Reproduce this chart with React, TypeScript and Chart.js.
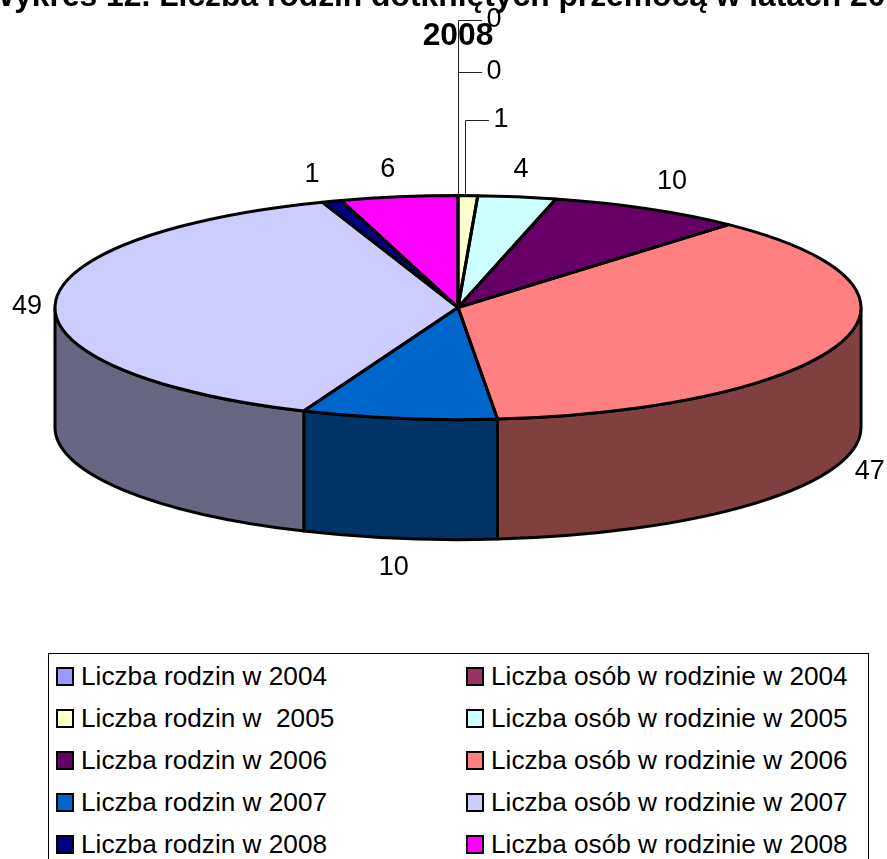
import React, { useEffect, useRef } from "react";
import { Chart, registerables } from "chart.js";

Chart.register(...registerables);

const categories = [
  "Liczba rodzin w 2004",
  "Liczba osób w rodzinie w 2004",
  "Liczba rodzin w  2005",
  "Liczba osób w rodzinie w 2005",
  "Liczba rodzin w 2006",
  "Liczba osób w rodzinie w 2006",
  "Liczba rodzin w 2007",
  "Liczba osób w rodzinie w 2007",
  "Liczba rodzin w 2008",
  "Liczba osób w rodzinie w 2008",
];
const values = [0, 0, 1, 4, 10, 47, 10, 49, 1, 6];
const titleLines = ["Wykres 12. Liczba rodzin dotkniętych przemocą w latach 2004-", "2008"];

const sliceColors = ["#9999FF", "#993366", "#FFFFCC", "#CCFFFF", "#660066", "#FF8080", "#0066CC", "#CCCCFF", "#000080", "#FF00FF"];
const labelOffsets: [number, number][] = [
  [36, -176], [36, -124], [33, -76], [4, -27], [24, -27],
  [29, 129], [-5, 149], [-28, 2], [-19.5, -27], [-11, -27],
];
const leaderLabels = [0, 1, 2];

const FONT = '"Liberation Sans", Arial, sans-serif';
const RADIUS = 403;
const TILT = 112 / 403;
const DEPTH = 120;
const LINE = 3;

function halfColor(hex: string) {
  const n = parseInt(hex.slice(1), 16);
  const c = [(n >> 16) & 255, (n >> 8) & 255, n & 255].map((v) => Math.round(v / 2));
  return `rgb(${c[0]},${c[1]},${c[2]})`;
}

const pie3d = {
  id: "pie3d",
  beforeDatasetsDraw(chart: any) {
    const ctx = chart.ctx;
    const arcs = chart.getDatasetMeta(0).data;
    const cx = arcs[0].x, cy = arcs[0].y;
    const rx = arcs[0].outerRadius, ry = rx * TILT;
    ctx.save();
    ctx.lineWidth = LINE;
    ctx.strokeStyle = "#000";
    ctx.lineJoin = "round";
    arcs.forEach((arc: any, i: number) => {
      if (!values[i]) return;
      for (const [lo, hi] of [[0, Math.PI], [2 * Math.PI, 3 * Math.PI]]) {
        const a0 = Math.max(arc.startAngle, lo);
        const a1 = Math.min(arc.endAngle, hi);
        if (a1 <= a0) continue;
        ctx.beginPath();
        ctx.ellipse(cx, cy, rx, ry, 0, a0, a1);
        ctx.ellipse(cx, cy + DEPTH, rx, ry, 0, a1, a0, true);
        ctx.closePath();
        ctx.fillStyle = halfColor(sliceColors[i]);
        ctx.fill();
        ctx.stroke();
      }
    });
    ctx.restore();
    ctx.save();
    ctx.translate(cx, cy);
    ctx.scale(1, TILT);
    ctx.translate(-cx, -cy);
  },
  afterDatasetsDraw(chart: any) {
    const ctx = chart.ctx;
    ctx.restore();
    const arcs = chart.getDatasetMeta(0).data;
    const cx = arcs[0].x, cy = arcs[0].y;
    const rx = arcs[0].outerRadius, ry = rx * TILT;
    ctx.save();
    ctx.lineWidth = LINE;
    ctx.strokeStyle = "#000";
    ctx.lineJoin = "round";
    arcs.forEach((arc: any, i: number) => {
      if (!values[i]) return;
      ctx.beginPath();
      ctx.moveTo(cx, cy);
      ctx.ellipse(cx, cy, rx, ry, 0, arc.startAngle, arc.endAngle);
      ctx.closePath();
      ctx.stroke();
    });
    ctx.font = `27px ${FONT}`;
    ctx.fillStyle = "#000";
    ctx.textAlign = "center";
    ctx.textBaseline = "middle";
    arcs.forEach((arc: any, i: number) => {
      const mid = (arc.startAngle + arc.endAngle) / 2;
      const px = cx + rx * Math.cos(mid);
      const py = cy + ry * Math.sin(mid);
      const lx = px + labelOffsets[i][0];
      const ly = py + labelOffsets[i][1];
      if (leaderLabels.includes(i)) {
        const leaderAngle = arc.startAngle + (arc.endAngle - arc.startAngle) * 0.35;
        const fx = cx + rx * Math.cos(leaderAngle);
        const fy = cy + ry * Math.sin(leaderAngle);
        ctx.beginPath();
        ctx.lineWidth = 1;
        ctx.strokeStyle = "#222";
        ctx.moveTo(Math.round(fx) + 0.5, fy);
        ctx.lineTo(Math.round(fx) + 0.5, Math.round(ly) + 0.5);
        ctx.lineTo(lx - 12, Math.round(ly) + 0.5);
        ctx.stroke();
      }
      ctx.fillText(String(values[i]), lx, ly);
    });
    ctx.restore();
  },
};

export default function App() {
  const ref = useRef<HTMLCanvasElement>(null);
  useEffect(() => {
    const chart = new Chart(ref.current!, {
      type: "pie",
      data: {
        labels: categories,
        datasets: [{ data: values, backgroundColor: sliceColors, borderWidth: 0, radius: RADIUS, clip: false } as any],
      },
      options: {
        responsive: false,
        animation: false,
        devicePixelRatio: 1,
        layout: { padding: { bottom: 91 } },
        plugins: {
          legend: { display: false },
          tooltip: { enabled: false },
          title: {
            display: true,
            text: titleLines,
            color: "#000",
            font: { family: FONT, size: 31.8, weight: "bold", lineHeight: 1.23 },
            padding: { top: 18, bottom: 10 },
          },
        },
      },
      plugins: [pie3d],
    } as any);
    return () => chart.destroy();
  }, []);

  const rows = [0, 1, 2, 3, 4];
  return (
    <div style={{ position: "absolute", left: 0, top: 0, width: 887, height: 859, overflow: "hidden", background: "#fff" }}>
      <canvas ref={ref} width={1034} height={680} style={{ position: "absolute", left: -59, top: -40, display: "block" }} />
      <div style={{ position: "absolute", left: 48, top: 653, width: 819, height: 230, border: "1px solid #000", fontFamily: FONT, fontSize: 26.2, color: "#000" }}>
        {rows.flatMap((r) =>
          [0, 1].map((c) => {
            const i = r * 2 + c;
            return (
              <div key={i} style={{ position: "absolute", left: c === 0 ? 7 : 417, top: 1 + r * 42.2, height: 42, display: "flex", alignItems: "center", whiteSpace: "pre" }}>
                <span style={{ display: "inline-block", boxSizing: "border-box", width: 18, height: 19, border: "2.5px solid #000", background: sliceColors[i], marginRight: 7 }} />
                <span>{categories[i]}</span>
              </div>
            );
          })
        )}
      </div>
    </div>
  );
}
